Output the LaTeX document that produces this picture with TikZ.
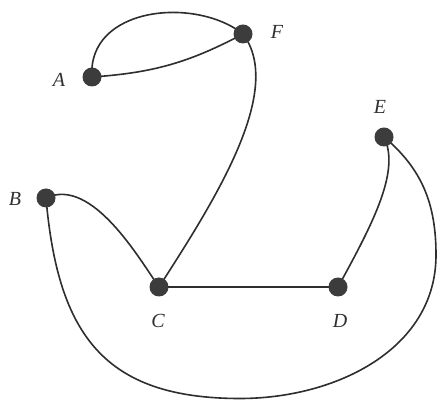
\documentclass[tikz,border=0pt]{standalone}
\usepackage{fontspec}
\setmainfont{Liberation Serif}
\usetikzlibrary{backgrounds}
\definecolor{dotgray}{HTML}{3C3C3C}
\definecolor{linegray}{HTML}{2E2E2E}
\definecolor{labgray}{HTML}{303030}
\begin{document}
\begin{tikzpicture}[x=1pt,y=1pt,
  dot/.style={circle,fill=dotgray,inner sep=0pt,minimum size=19pt},
  edge/.style={draw=linegray,line width=1.6pt},
  lab/.style={font=\fontsize{20}{22}\selectfont\itshape,text=labgray,inner sep=0pt}]
\useasboundingbox (0,0) rectangle (438,401);
% vertices
\node[dot] (A) at (92,324) {};
\node[dot] (F) at (243,367) {};
\node[dot] (B) at (46,203) {};
\node[dot] (C) at (159,114) {};
\node[dot] (D) at (338,114) {};
\node[dot] (E) at (384,264) {};
% labels
\node[lab] (lA) at (59,321) {A};
\node[lab] (lF) at (277,369) {F};
\node[lab] (lB) at (15,202) {B};
\node[lab] (lC) at (158,80) {C};
\node[lab] (lD) at (340,80) {D};
\node[lab] (lE) at (380,294) {E};
% helper points of the long edge
\coordinate (bot) at (240,2.5);
\coordinate (rgt) at (436,146);
\begin{scope}[on background layer]
  \fill[white] (0,0) rectangle (438,401);
  \draw[edge] (A.center) .. controls (87,394) and (195,405) .. (F.center);
  \draw[edge] (A.center) to[bend right=12] (F.center);
  \draw[edge] (F.center) .. controls (285,311) and (215,201) .. (C.center);
  \draw[edge] (B.center) .. controls (92,225) and (140,141) .. (C.center);
  \draw[edge] (C.center) -- (D.center);
  \draw[edge] (D.center) .. controls (375,181) and (400,231) .. (E.center);
  \draw[edge] (B.center) to[out=-85,in=180,looseness=1.25] (bot)
                         to[out=0,in=-90] (rgt)
                         to[out=90,in=-40] (E.center);
\end{scope}
\end{tikzpicture}
\end{document}
